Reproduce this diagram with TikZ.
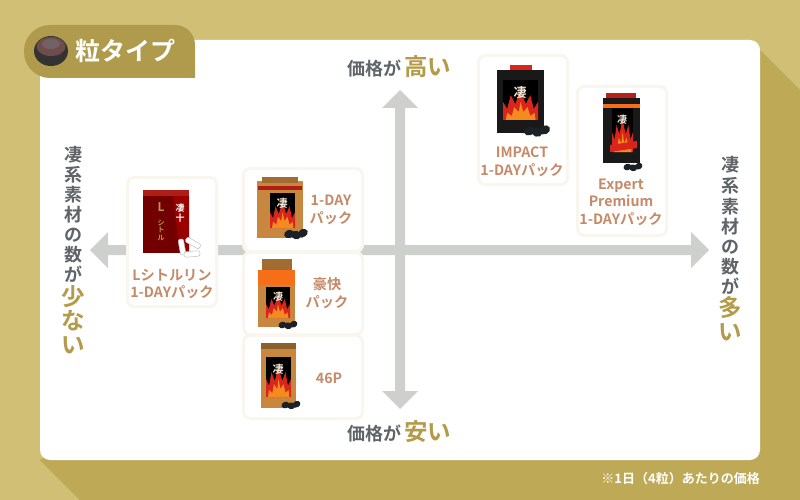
\documentclass[tikz,border=0pt]{standalone}
\usepackage{fontspec}
\setmainfont{Noto Sans CJK JP}[BoldFont={Noto Sans CJK JP Bold}]
\definecolor{bglight}{HTML}{D1BF75}
\definecolor{bgdark}{HTML}{BEA956}
\definecolor{tabc}{HTML}{B09A4C}
\definecolor{axis}{HTML}{CDD0CD}
\definecolor{halo}{HTML}{FAF6EE}
\definecolor{lab}{HTML}{C58A68}
\definecolor{txtg}{HTML}{5F6468}
\definecolor{hl}{HTML}{B39B4A}
\definecolor{tan}{HTML}{C8873F}
\definecolor{flamer}{HTML}{D9261C}
\definecolor{flameo}{HTML}{F58A1F}
\definecolor{caps}{HTML}{1C2126}
\tikzset{
  cardlabel/.style={font=\bfseries\fontsize{14.2}{17.5}\selectfont,text=lab,align=center,inner sep=0pt},
  axislabel/.style={font=\bfseries\fontsize{18}{20}\selectfont,text=txtg,inner sep=0pt},
  axishl/.style={font=\bfseries\fontsize{23.5}{25}\selectfont,text=hl,inner sep=0pt},
  capsule/.style={fill=caps,draw=none},
  boxmark/.style={font=\bfseries\fontsize{#1}{#1}\selectfont,text=white!80!tan,inner sep=0pt},
}
\newcommand{\cardbox}[4]{%
  \fill[halo,rounded corners=8pt] (#1-3,#2-3) rectangle (#3+3,#4+3);
  \fill[white,rounded corners=5pt] (#1,#2) rectangle (#3,#4);
}
\newcommand{\flamepanel}[5]{% x y w h panelcolour
  \begin{scope}[shift={(#1,#2)},x=#3pt,y=-#4pt]
    \fill[#5] (0,0) rectangle (1,1);
    \fill[flamer] (0,1) -- (0,.55) -- (.12,.72) -- (.22,.38) -- (.35,.6) -- (.5,.25) -- (.65,.6) -- (.78,.38) -- (.88,.72) -- (1,.55) -- (1,1) -- cycle;
    \fill[flameo] (.08,1) -- (.12,.82) -- (.25,.9) -- (.32,.68) -- (.45,.8) -- (.5,.55) -- (.58,.8) -- (.7,.68) -- (.78,.9) -- (.9,.82) -- (.93,1) -- cycle;
  \end{scope}
}
\newcommand{\capsules}[3]{% x y scale
  \begin{scope}[shift={(#1,#2)},x=#3pt,y=#3pt]
    \fill[capsule,rotate around={20:(-7,0)}] (-7,0) ellipse (5 and 4);
    \fill[capsule,rotate around={-15:(0,-1)}] (0,-1) ellipse (5 and 4.2);
    \fill[capsule,rotate around={25:(7,1)}] (7,1) ellipse (5 and 4);
  \end{scope}
}
\begin{document}
\begin{tikzpicture}[x=1pt,y=-1pt]
\useasboundingbox (0,0) rectangle (800,500);
% background
\fill[bglight] (0,0) rectangle (800,500);
\fill[bgdark] (760,50) -- (800,90) -- (800,500) -- (80,500) -- (40,460) -- cycle;
\fill[white,rounded corners=10pt] (40,40) rectangle (760,460);
% tab
\fill[tabc] (195,78) {[rounded corners=26pt] -- (24,78) -- (24,25)} {[rounded corners=20pt] -- (195,25)} -- cycle;
\fill[black!80] (51,51) ellipse (17 and 15);
\fill[black!65!red!40!gray] (51,46.5) ellipse (14.5 and 9.5);
\fill[black!55!white,opacity=.6] (51,44) ellipse (9 and 5);
\node[font=\bfseries\fontsize{25}{27}\selectfont,text=white,inner sep=0pt] (tabtitle) at (125,51) {粒タイプ};
% axes
\fill[axis] (108,245) -- (691,245) -- (691,232) -- (709,250) -- (691,268) -- (691,255) -- (108,255) -- (108,268) -- (90,250) -- (108,232) -- cycle;
\fill[axis] (395,108) -- (382,108) -- (400,90) -- (418,108) -- (405,108) -- (405,391) -- (418,391) -- (400,409) -- (382,391) -- (395,391) -- cycle;
% axis labels: top and bottom
\node[axislabel,anchor=base west] (topa) at (347,76) {価格が};
\node[axishl,anchor=base west] (topb) at (404,76) {高い};
\node[axislabel,anchor=base west] (bota) at (347,440) {価格が};
\node[axishl,anchor=base west] (botb) at (404,440) {安い};
% axis labels: left column
\foreach \c/\y/\n in {凄/155/a,系/175/b,素/195/c,材/215/d,の/235/e,数/255/f,が/274/g}
  \node[axislabel] (l\n) at (73,\y) {\c};
\foreach \c/\y/\n in {少/297/h,な/321/i,い/345/j}
  \node[axishl] (l\n) at (73,\y) {\c};
% axis labels: right column
\foreach \c/\y/\n in {凄/165/a,系/186/b,素/207/c,材/227/d,の/247/e,数/267/f,が/286/g}
  \node[axislabel] (r\n) at (730,\y) {\c};
\foreach \c/\y/\n in {多/308/h,い/332/i}
  \node[axishl] (r\n) at (730,\y) {\c};
% cards
\cardbox{129}{179}{215}{305}
\cardbox{245}{170}{361}{250}
\cardbox{245}{254}{361}{333}
\cardbox{245}{337}{361}{417}
\cardbox{480}{57}{566}{183}
\cardbox{579}{88}{665}{234}
% L box
\fill[red!45!black] (143,194) rectangle (189,253);
\fill[flamer!80!black] (143,190) rectangle (189,196);
\fill[red!60!black] (173,196) -- (189,196) -- (189,253) -- (180,253) -- cycle;
\node[font=\bfseries\fontsize{12}{12}\selectfont,text=hl,inner sep=0pt] (lboxl) at (161,207) {L};
\node[font=\bfseries\fontsize{7}{7.5}\selectfont,text=hl,inner sep=0pt,align=center] (lboxt) at (161,230) {シ\\ト\\ル};
\node[font=\bfseries\fontsize{9}{10}\selectfont,text=white,inner sep=0pt,align=center] (lboxs) at (180,213) {凄\\十};
\foreach \x/\y/\r in {182/247/-80,193/243/-30,192/254/5}{
  \fill[white,draw=black!25,line width=.5pt,rounded corners=2pt,rotate around={\r:(\x,\y)}] (\x-8,\y-2.7) rectangle (\x+8,\y+2.7);
}
% 1-DAY box
\fill[tan] (257,181) rectangle (303,238);
\fill[tan!80!black] (262,177) rectangle (298,183);
\fill[flamer!80!black] (258,186) rectangle (302,190);
\flamepanel{270}{193}{25}{35}{black}
\node[boxmark=11] (b1s) at (282,203) {凄};
\capsules{296}{234}{1}
% 豪快 box
\fill[tan] (258,271) rectangle (295,327);
\fill[tan!80!black] (262,259) rectangle (292,271);
\fill[flameo!80!red] (258,270) rectangle (295,285);
\flamepanel{266}{287}{24}{31}{black}
\node[boxmark=10] (b2s) at (278,297) {凄};
\capsules{288}{325}{.8}
% 46P box
\fill[tan] (261,346) rectangle (296,408);
\fill[tan!70!black] (261,343) rectangle (296,349);
\flamepanel{266}{357}{25}{40}{black}
\node[boxmark=11] (b3s) at (278,369) {凄};
\capsules{291}{405}{.8}
% IMPACT box
\fill[black!90] (497,70) rectangle (544,133);
\fill[flamer] (510,65) rectangle (532,70);
\flamepanel{503}{80}{35}{40}{black}
\node[boxmark=13] (b4s) at (520,93) {凄};
\capsules{537}{131}{1.1}
% Expert box
\fill[black!90] (603,98) rectangle (640,163);
\fill[flamer!85!black] (606,93) rectangle (636,98);
\fill[flameo!80!red] (603,104) rectangle (640,108);
\flamepanel{612}{108}{21}{44}{black}
\node[boxmark=10] (b5s) at (622,120) {凄};
\fill[flamer] (610,145) -- (637,141) -- (637,148) -- (610,152) -- cycle;
\capsules{633}{167}{.8}
% card labels
\node[cardlabel] (n1) at (172,284) {Lシトルリン\\1-DAYパック};
\node[cardlabel] (n2) at (331,210) {1-DAY\\パック};
\node[cardlabel] (n3) at (327,293) {豪快\\パック};
\node[cardlabel] (n4) at (329,378) {46P};
\node[cardlabel] (n5) at (522,162) {IMPACT\\1-DAYパック};
\node[cardlabel] (n6) at (621,202) {Expert\\Premium\\1-DAYパック};
% footnote
\node[font=\bfseries\fontsize{13}{15}\selectfont,text=white,inner sep=0pt,anchor=east] (note) at (760,479) {※1日（4粒）あたりの価格};
\end{tikzpicture}
\end{document}
